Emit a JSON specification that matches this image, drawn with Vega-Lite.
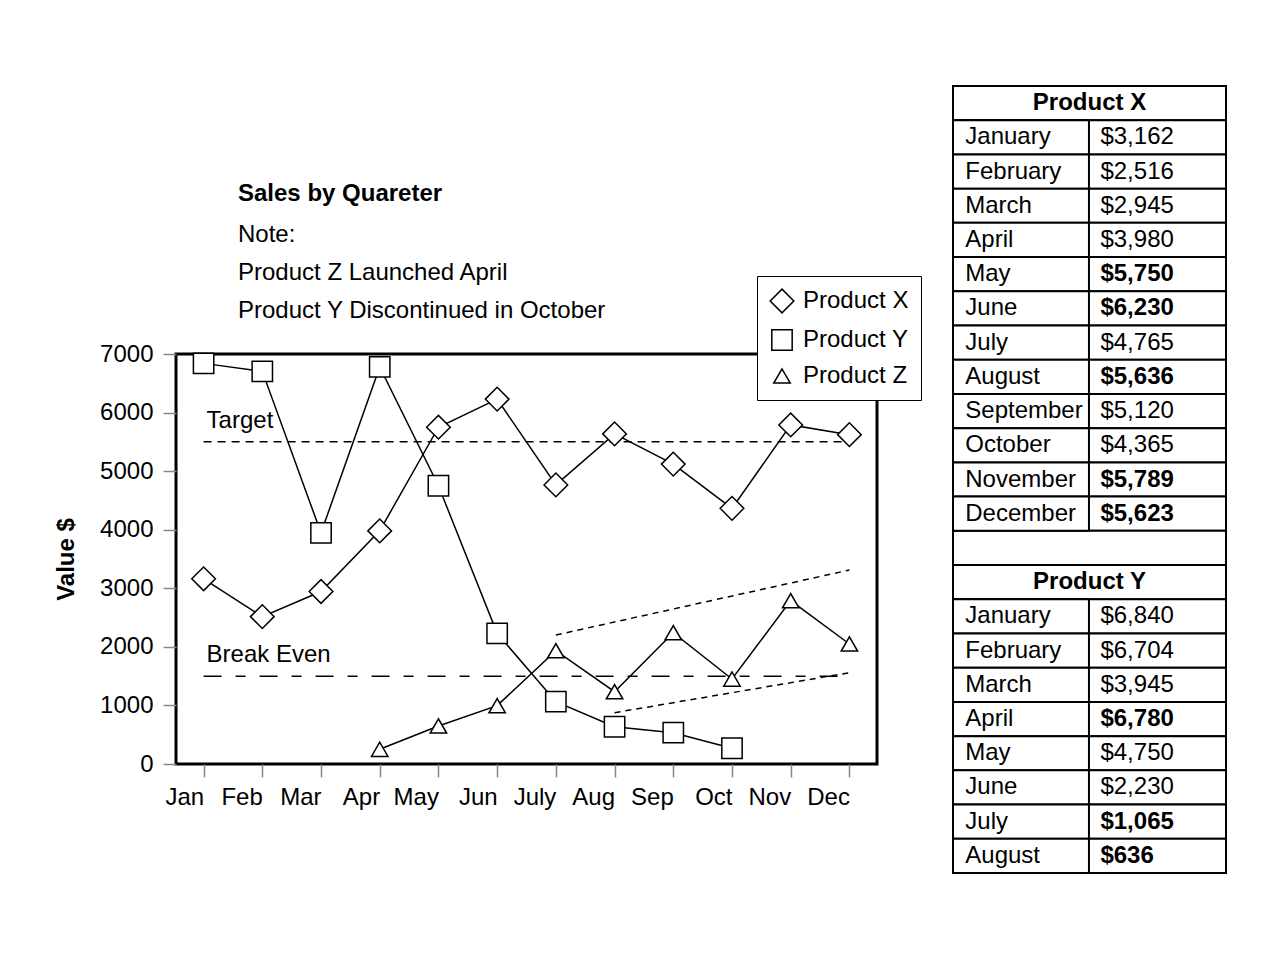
{
  "$schema": "https://vega.github.io/schema/vega-lite/v6.json",
  "background": "white",
  "padding": {"left": 53, "top": 85, "right": 0, "bottom": 0},
  "spacing": 73,
  "config": {
    "font": "Liberation Sans",
    "view": {"stroke": "black", "strokeWidth": 3},
    "axis": {"labelFont": "Liberation Sans", "titleFont": "Liberation Sans", "labelFontSize": 24, "labelColor": "black", "tickColor": "#888888", "tickSize": 13, "tickWidth": 1.5, "domain": false, "grid": false, "titleColor": "black"},
    "legend": {"labelFont": "Liberation Sans"},
    "title": {"font": "Liberation Sans", "subtitleFont": "Liberation Sans"},
    "text": {"color": "black", "font": "Liberation Sans"}
  },
  "datasets": {
    "sales": [
      {"product": "Product X", "month": "Jan", "value": 3162},
      {"product": "Product X", "month": "Feb", "value": 2516},
      {"product": "Product X", "month": "Mar", "value": 2945},
      {"product": "Product X", "month": "Apr", "value": 3980},
      {"product": "Product X", "month": "May", "value": 5750},
      {"product": "Product X", "month": "Jun", "value": 6230},
      {"product": "Product X", "month": "July", "value": 4765},
      {"product": "Product X", "month": "Aug", "value": 5636},
      {"product": "Product X", "month": "Sep", "value": 5120},
      {"product": "Product X", "month": "Oct", "value": 4365},
      {"product": "Product X", "month": "Nov", "value": 5789},
      {"product": "Product X", "month": "Dec", "value": 5623},
      {"product": "Product Y", "month": "Jan", "value": 6840},
      {"product": "Product Y", "month": "Feb", "value": 6704},
      {"product": "Product Y", "month": "Mar", "value": 3945},
      {"product": "Product Y", "month": "Apr", "value": 6780},
      {"product": "Product Y", "month": "May", "value": 4750},
      {"product": "Product Y", "month": "Jun", "value": 2230},
      {"product": "Product Y", "month": "July", "value": 1065},
      {"product": "Product Y", "month": "Aug", "value": 636},
      {"product": "Product Y", "month": "Sep", "value": 535},
      {"product": "Product Y", "month": "Oct", "value": 268},
      {"product": "Product Z", "month": "Apr", "value": 251},
      {"product": "Product Z", "month": "May", "value": 649},
      {"product": "Product Z", "month": "Jun", "value": 996},
      {"product": "Product Z", "month": "July", "value": 1935},
      {"product": "Product Z", "month": "Aug", "value": 1235},
      {"product": "Product Z", "month": "Sep", "value": 2242},
      {"product": "Product Z", "month": "Oct", "value": 1451},
      {"product": "Product Z", "month": "Nov", "value": 2789},
      {"product": "Product Z", "month": "Dec", "value": 2049}
    ],
    "refs": [
      {"name": "Target", "value": 5500},
      {"name": "Break Even", "value": 1500}
    ],
    "trends": [
      {"trend": "upper", "month": "July", "value": 2202},
      {"trend": "upper", "month": "Dec", "value": 3312},
      {"trend": "lower", "month": "Aug", "value": 876},
      {"trend": "lower", "month": "Dec", "value": 1559}
    ],
    "table": [
      {"key": "XH", "kind": "header", "label": "Product X"},
      {"key": "X01", "kind": "data", "label": "January", "value": 3162, "highlight": false},
      {"key": "X02", "kind": "data", "label": "February", "value": 2516, "highlight": false},
      {"key": "X03", "kind": "data", "label": "March", "value": 2945, "highlight": false},
      {"key": "X04", "kind": "data", "label": "April", "value": 3980, "highlight": false},
      {"key": "X05", "kind": "data", "label": "May", "value": 5750, "highlight": true},
      {"key": "X06", "kind": "data", "label": "June", "value": 6230, "highlight": true},
      {"key": "X07", "kind": "data", "label": "July", "value": 4765, "highlight": false},
      {"key": "X08", "kind": "data", "label": "August", "value": 5636, "highlight": true},
      {"key": "X09", "kind": "data", "label": "September", "value": 5120, "highlight": false},
      {"key": "X10", "kind": "data", "label": "October", "value": 4365, "highlight": false},
      {"key": "X11", "kind": "data", "label": "November", "value": 5789, "highlight": true},
      {"key": "X12", "kind": "data", "label": "December", "value": 5623, "highlight": true},
      {"key": "BL", "kind": "blank", "label": ""},
      {"key": "YH", "kind": "header", "label": "Product Y"},
      {"key": "Y01", "kind": "data", "label": "January", "value": 6840, "highlight": false},
      {"key": "Y02", "kind": "data", "label": "February", "value": 6704, "highlight": false},
      {"key": "Y03", "kind": "data", "label": "March", "value": 3945, "highlight": false},
      {"key": "Y04", "kind": "data", "label": "April", "value": 6780, "highlight": true},
      {"key": "Y05", "kind": "data", "label": "May", "value": 4750, "highlight": false},
      {"key": "Y06", "kind": "data", "label": "June", "value": 2230, "highlight": false},
      {"key": "Y07", "kind": "data", "label": "July", "value": 1065, "highlight": true},
      {"key": "Y08", "kind": "data", "label": "August", "value": 636, "highlight": true}
    ]
  },
  "hconcat": [
    {
      "spacing": 0,
      "vconcat": [
        {
          "width": 701,
          "height": 94,
          "view": {"stroke": null, "fill": "white"},
          "data": {"values": []},
          "mark": {"type": "point", "opacity": 0},
          "encoding": {}
        },
        {
          "width": 701,
          "height": 410,
          "title": {
            "text": "Sales by Quareter",
            "subtitle": ["Note:", "Product Z Launched April", "Product Y Discontinued in October"],
            "anchor": "start",
            "frame": "group",
            "dx": 62,
            "fontSize": 24,
            "fontWeight": "bold",
            "color": "black",
            "subtitleFontSize": 24,
            "subtitleLineHeight": 38,
            "subtitlePadding": 17,
            "subtitleColor": "black",
            "offset": 19
          },
          "layer": [
            {
              "data": {"name": "refs"},
              "mark": {"type": "rule", "strokeWidth": 1.5, "color": "black"},
              "encoding": {
                "x": {"datum": "Jan", "type": "ordinal"},
                "x2": {"datum": "Dec"},
                "y": {"field": "value", "type": "quantitative"},
                "strokeDash": {"field": "name", "type": "nominal", "scale": {"domain": ["Target", "Break Even"], "range": [[8, 6], [18, 14, 10, 14]]}, "legend": null}
              }
            },
            {
              "data": {"name": "refs"},
              "mark": {"type": "text", "align": "left", "baseline": "alphabetic", "dx": 3, "dy": -14, "fontSize": 24},
              "encoding": {
                "x": {"datum": "Jan", "type": "ordinal"},
                "y": {"field": "value", "type": "quantitative"},
                "text": {"field": "name"}
              }
            },
            {
              "data": {"name": "trends"},
              "mark": {"type": "line", "strokeWidth": 1.5, "color": "black", "strokeDash": [6, 5]},
              "encoding": {
                "x": {"field": "month", "type": "ordinal"},
                "y": {"field": "value", "type": "quantitative"},
                "detail": {"field": "trend"}
              }
            },
            {
              "data": {"name": "sales"},
              "mark": {"type": "line", "strokeWidth": 1.5, "color": "black"},
              "encoding": {
                "x": {"field": "month", "type": "ordinal"},
                "y": {"field": "value", "type": "quantitative"},
                "detail": {"field": "product"}
              }
            },
            {
              "data": {"name": "sales"},
              "mark": {"type": "point", "filled": false, "fill": "white", "fillOpacity": 1, "stroke": "black", "strokeWidth": 1.5, "opacity": 1},
              "encoding": {
                "x": {
                  "field": "month", "type": "ordinal",
                  "scale": {"type": "point", "domain": ["Jan", "Feb", "Mar", "Apr", "May", "Jun", "July", "Aug", "Sep", "Oct", "Nov", "Dec"], "padding": 0.47},
                  "axis": {"title": null, "labelAngle": 0, "labelPadding": 20}
                },
                "y": {
                  "field": "value", "type": "quantitative",
                  "scale": {"domain": [0, 7000], "nice": false, "zero": true},
                  "axis": {"title": "Value $", "titleFontSize": 24, "titleFontWeight": "bold", "titlePadding": 21, "labelPadding": 10, "format": "d", "values": [0, 1000, 2000, 3000, 4000, 5000, 6000, 7000]}
                },
                "shape": {
                  "field": "product", "type": "nominal",
                  "scale": {"domain": ["Product X", "Product Y", "Product Z"], "range": ["diamond", "square", "triangle-up"]},
                  "legend": {
                    "title": null, "orient": "none", "legendX": 581, "legendY": 190,
                    "strokeColor": "black", "fillColor": "white", "padding": 12,
                    "labelFontSize": 24, "labelColor": "black", "labelOffset": 8, "rowPadding": 10,
                    "symbolFillColor": "white", "symbolStrokeColor": "black", "symbolStrokeWidth": 1.5, "symbolOpacity": 1
                  }
                },
                "size": {
                  "field": "product", "type": "nominal",
                  "scale": {"domain": ["Product X", "Product Y", "Product Z"], "range": [560, 270, 360]}
                }
              }
            }
          ]
        }
      ]
    },
    {
      "width": 273,
      "height": 787,
      "view": {"stroke": null},
      "data": {"name": "table"},
      "encoding": {
        "y": {
          "field": "key", "type": "ordinal",
          "scale": {"domain": ["XH", "X01", "X02", "X03", "X04", "X05", "X06", "X07", "X08", "X09", "X10", "X11", "X12", "BL", "YH", "Y01", "Y02", "Y03", "Y04", "Y05", "Y06", "Y07", "Y08"], "paddingInner": 0, "paddingOuter": 0},
          "axis": null
        }
      },
      "layer": [
        {
          "mark": {"type": "rect", "fill": "white", "stroke": "black", "strokeWidth": 2},
          "encoding": {
            "x": {"datum": 0, "type": "quantitative", "scale": {"domain": [0, 1], "nice": false}, "axis": null},
            "x2": {"datum": 1}
          }
        },
        {
          "transform": [{"filter": "datum.kind === 'data'"}],
          "mark": {"type": "rect", "fill": "white", "stroke": "black", "strokeWidth": 2},
          "encoding": {
            "x": {"datum": 0, "type": "quantitative"},
            "x2": {"datum": 0.498}
          }
        },
        {
          "transform": [{"filter": "datum.kind === 'header'"}],
          "mark": {"type": "text", "align": "center", "baseline": "middle", "fontSize": 24, "fontWeight": "bold"},
          "encoding": {
            "x": {"datum": 0.5, "type": "quantitative"},
            "text": {"field": "label"}
          }
        },
        {
          "transform": [{"filter": "datum.kind === 'data'"}],
          "mark": {"type": "text", "align": "left", "baseline": "middle", "fontSize": 24},
          "encoding": {
            "x": {"datum": 0.045, "type": "quantitative"},
            "text": {"field": "label"}
          }
        },
        {
          "transform": [{"filter": "datum.kind === 'data' && !datum.highlight"}],
          "mark": {"type": "text", "align": "left", "baseline": "middle", "fontSize": 24},
          "encoding": {
            "x": {"datum": 0.54, "type": "quantitative"},
            "text": {"field": "value", "type": "quantitative", "format": "$,d"}
          }
        },
        {
          "transform": [{"filter": "datum.kind === 'data' && datum.highlight"}],
          "mark": {"type": "text", "align": "left", "baseline": "middle", "fontSize": 24, "fontWeight": "bold"},
          "encoding": {
            "x": {"datum": 0.54, "type": "quantitative"},
            "text": {"field": "value", "type": "quantitative", "format": "$,d"}
          }
        }
      ]
    }
  ]
}
